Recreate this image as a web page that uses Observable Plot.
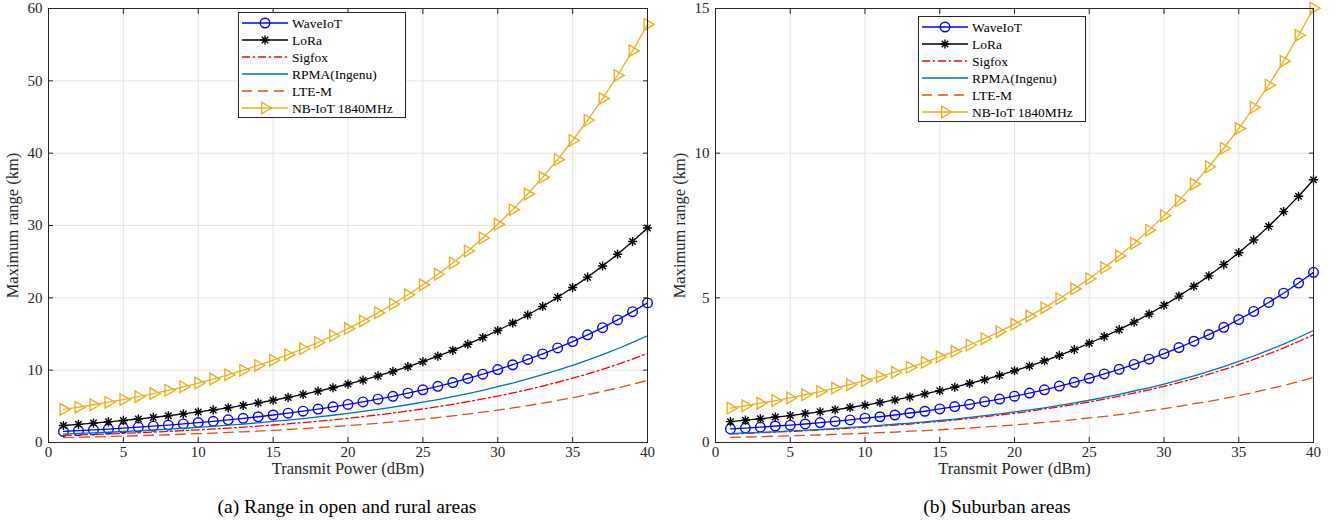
<!DOCTYPE html>
<html><head><meta charset="utf-8">
<script src="https://cdn.jsdelivr.net/npm/d3@7"></script>
<script src="https://cdn.jsdelivr.net/npm/@observablehq/plot@0.6"></script>
<style>
body{margin:0;background:#fff;font-family:"Liberation Serif","Times New Roman",serif;}
#wrap{position:relative;width:1338px;height:524px;overflow:hidden;}
.panel{position:absolute;top:0;width:669px;}
.panel svg text{font-family:"Liberation Serif","Times New Roman",serif !important;}
.caption{position:absolute;top:495px;font-size:19.5px;line-height:24px;color:#000;white-space:nowrap;transform:translateX(-50%);}
</style></head>
<body><div id="wrap"></div>
<script>
const power = [1,2,3,4,5,6,7,8,9,10,11,12,13,14,15,16,17,18,19,20,21,22,23,24,25,26,27,28,29,30,31,32,33,34,35,36,37,38,39,40];
const seriesNames = ["WaveIoT","LoRa","Sigfox","RPMA(Ingenu)","LTE-M","NB-IoT 1840MHz"];
const xTicks = [0,5,10,15,20,25,30,35,40];
const yTicksA = [0,10,20,30,40,50,60];
const yTicksB = [0,5,10,15];
const captions = ["(a) Range in open and rural areas","(b) Suburban areas"];

// (a) open and rural areas
const waveA = [1.53,1.63,1.74,1.86,1.98,2.12,2.26,2.41,2.57,2.75,2.93,3.13,3.34,3.56,3.80,4.06,4.33,4.62,4.93,5.26,5.61,5.99,6.39,6.82,7.28,7.77,8.29,8.85,9.44,10.08,10.75,11.48,12.25,13.07,13.95,14.88,15.88,16.95,18.09,19.30];
const loraA = [2.35,2.51,2.68,2.86,3.05,3.25,3.47,3.70,3.95,4.22,4.50,4.80,5.13,5.47,5.84,6.23,6.65,7.10,7.57,8.08,8.62,9.20,9.82,10.48,11.18,11.93,12.74,13.59,14.50,15.48,16.52,17.63,18.81,20.07,21.42,22.86,24.40,26.03,27.78,29.65];
const sigfoxA = [0.98,1.04,1.11,1.18,1.26,1.35,1.44,1.54,1.64,1.75,1.87,1.99,2.13,2.27,2.42,2.58,2.76,2.94,3.14,3.35,3.58,3.82,4.07,4.35,4.64,4.95,5.28,5.64,6.02,6.42,6.85,7.31,7.80,8.33,8.89,9.48,10.12,10.80,11.53,12.30];
const rpmaA = [1.17,1.25,1.33,1.42,1.52,1.62,1.73,1.84,1.97,2.10,2.24,2.39,2.55,2.72,2.91,3.10,3.31,3.53,3.77,4.02,4.29,4.58,4.89,5.22,5.57,5.94,6.34,6.77,7.22,7.71,8.22,8.78,9.37,9.99,10.67,11.38,12.15,12.96,13.83,14.76];
const ltemA = [0.68,0.73,0.77,0.83,0.88,0.94,1.00,1.07,1.14,1.22,1.30,1.39,1.48,1.58,1.69,1.80,1.92,2.05,2.19,2.34,2.50,2.66,2.84,3.03,3.24,3.45,3.69,3.93,4.20,4.48,4.78,5.10,5.44,5.81,6.20,6.62,7.06,7.53,8.04,8.58];
const nbiotA = [4.58,4.89,5.22,5.57,5.94,6.34,6.76,7.22,7.70,8.22,8.77,9.36,9.99,10.66,11.38,12.14,12.96,13.83,14.76,15.75,16.81,17.93,19.14,20.42,21.80,23.26,24.82,26.49,28.27,30.17,32.19,34.35,36.66,39.12,41.75,44.55,47.55,50.74,54.15,57.78];

// (b) suburban areas
const waveB = [0.47,0.50,0.53,0.57,0.60,0.64,0.69,0.73,0.78,0.84,0.89,0.95,1.02,1.08,1.16,1.24,1.32,1.41,1.50,1.60,1.71,1.82,1.95,2.08,2.22,2.37,2.53,2.70,2.88,3.07,3.28,3.50,3.73,3.98,4.25,4.53,4.84,5.16,5.51,5.88];
const loraB = [0.72,0.77,0.82,0.88,0.93,1.00,1.06,1.13,1.21,1.29,1.38,1.47,1.57,1.68,1.79,1.91,2.04,2.17,2.32,2.48,2.64,2.82,3.01,3.21,3.43,3.66,3.90,4.16,4.44,4.74,5.06,5.40,5.76,6.15,6.56,7.00,7.47,7.98,8.51,9.08];
const sigfoxB = [0.295,0.31,0.34,0.36,0.38,0.41,0.44,0.46,0.50,0.53,0.57,0.60,0.64,0.69,0.73,0.78,0.83,0.89,0.95,1.01,1.08,1.16,1.23,1.32,1.40,1.50,1.60,1.71,1.82,1.94,2.07,2.21,2.36,2.52,2.69,2.87,3.06,3.27,3.49,3.72];
const rpmaB = [0.31,0.33,0.35,0.37,0.40,0.42,0.45,0.48,0.52,0.55,0.59,0.63,0.67,0.71,0.76,0.81,0.87,0.93,0.99,1.06,1.13,1.20,1.28,1.37,1.46,1.56,1.66,1.78,1.89,2.02,2.16,2.30,2.46,2.62,2.80,2.99,3.19,3.40,3.63,3.87];
const ltemB = [0.18,0.19,0.20,0.22,0.23,0.25,0.26,0.28,0.30,0.32,0.34,0.36,0.39,0.41,0.44,0.47,0.50,0.54,0.57,0.61,0.65,0.70,0.74,0.79,0.85,0.90,0.96,1.03,1.10,1.17,1.25,1.34,1.42,1.52,1.62,1.73,1.85,1.97,2.10,2.25];
const nbiotB = [1.19,1.27,1.36,1.45,1.54,1.65,1.76,1.88,2.00,2.14,2.28,2.43,2.60,2.77,2.96,3.15,3.37,3.59,3.83,4.09,4.37,4.66,4.97,5.31,5.66,6.04,6.45,6.88,7.34,7.84,8.36,8.93,9.53,10.17,10.85,11.58,12.35,13.18,14.07,15.01];

const colors = ["#0000FF","#000000","#FF0000","#0072BD","#D95319","#EDB120"];
const dashes = [null,null,"8,3,2,3",null,"10,6",null];

const star8 = {draw(ctx, size){
  const r = Math.sqrt(size/Math.PI);
  for (let k=0;k<4;k++){ const a = k*Math.PI/4; const dx=r*Math.cos(a), dy=r*Math.sin(a);
    ctx.moveTo(-dx,-dy); ctx.lineTo(dx,dy);} }};

const markerSpec = [
  {symbol:"circle", r:4.8, rotate:0},
  {symbol:star8, r:4.6, rotate:0},
  null, null, null,
  {symbol:"triangle", r:4.3, rotate:90}
];

function table(seriesList){
  const rows=[];
  seriesList.forEach((vals,i)=>vals.forEach((v,j)=>rows.push({s:i, x:power[j], y:v})));
  return rows;
}

const FONT = "Liberation Serif, Times New Roman, serif";

function makePanel(seriesList, ymax, yTicks, ml, mr){
  const rows = table(seriesList);
  const marks = [
    Plot.gridX(xTicks, {stroke:"#e3e3e3", strokeOpacity:1}),
    Plot.gridY(yTicks, {stroke:"#e3e3e3", strokeOpacity:1}),
  ];
  seriesList.forEach((vals,i)=>{
    const d = rows.filter(r=>r.s===i);
    marks.push(Plot.line(d,{x:"x",y:"y",stroke:colors[i],strokeWidth:1.3,strokeDasharray:dashes[i]}));
    const m = markerSpec[i];
    if (m) marks.push(Plot.dot(d,{x:"x",y:"y",symbol:m.symbol,r:m.r,rotate:m.rotate,stroke:colors[i],fill:"none",strokeWidth:1.4}));
  });
  marks.push(
    Plot.frame({stroke:"#262626", strokeWidth:1}),
    Plot.axisX(xTicks,{anchor:"bottom", tickSize:-5, tickPadding:9, stroke:"#262626", fill:"#262626", label:"Transmit Power (dBm)", labelAnchor:"center", labelArrow:"none", labelOffset:31}),
    Plot.axisX(xTicks,{anchor:"top", tickSize:-5, stroke:"#262626", tickFormat:()=>"", label:null}),
    Plot.axisY(yTicks,{anchor:"left", tickSize:-5, tickPadding:11, stroke:"#262626", fill:"#262626", label:"Maximum range (km)", labelAnchor:"center", labelArrow:"none", labelOffset:42}),
    Plot.axisY(yTicks,{anchor:"right", tickSize:-5, stroke:"#262626", tickFormat:()=>"", label:null})
  );
  const svg = Plot.plot({
    width:669, height:478, marginLeft:ml, marginRight:mr, marginTop:8, marginBottom:36,
    style:{fontFamily:FONT, fontSize:"15px", color:"#262626", background:"white", overflow:"visible"},
    x:{domain:[0,40]}, y:{domain:[0,ymax]},
    marks
  });
  // text sizing: numeric tick labels vs. axis titles
  d3.select(svg).selectAll("text").each(function(){
    const t = this.textContent.trim();
    const isTick = /^[\d.]*$/.test(t);
    d3.select(this).style("font-size", isTick ? "15px" : "16.5px", "important")
      .style("font-family", FONT, "important");
  });
  return svg;
}

function legend(container, left, top){
  const W=168, H=106;
  const svg = d3.select(container).append("svg").attr("width",W).attr("height",H)
    .style("position","absolute").style("left",left+"px").style("top",top+"px");
  svg.append("rect").attr("x",0.5).attr("y",0.5).attr("width",W-1).attr("height",H-1).attr("fill","white").attr("stroke","#262626");
  seriesNames.forEach((name,i)=>{
    const y = 11 + i*17;
    svg.append("line").attr("x1",4).attr("x2",50).attr("y1",y).attr("y2",y)
      .attr("stroke",colors[i]).attr("stroke-width",1.3).attr("stroke-dasharray",dashes[i]);
    const m = markerSpec[i];
    if (m){
      const sym = typeof m.symbol === "string" ? (m.symbol==="circle"?d3.symbolCircle:d3.symbolTriangle) : m.symbol;
      svg.append("path").attr("d",d3.symbol(sym, Math.PI*m.r*m.r)())
        .attr("transform",`translate(27,${y}) rotate(${m.rotate})`)
        .attr("fill","none").attr("stroke",colors[i]).attr("stroke-width",1.4);
    }
    svg.append("text").attr("x",54).attr("y",y+4.5).attr("font-size",13.5)
      .attr("font-family",FONT).attr("fill","#000").text(name);
  });
}

const wrap = document.getElementById("wrap");
const pA = document.createElement("div"); pA.className="panel"; pA.style.left="0px";
pA.appendChild(makePanel([waveA,loraA,sigfoxA,rpmaA,ltemA,nbiotA],60,yTicksA,48,22));
wrap.appendChild(pA);
const pB = document.createElement("div"); pB.className="panel"; pB.style.left="669px";
pB.appendChild(makePanel([waveB,loraB,sigfoxB,rpmaB,ltemB,nbiotB],15,yTicksB,46,25));
wrap.appendChild(pB);
legend(wrap,238,12);
legend(wrap,918,16);
[[captions[0],347],[captions[1],997]].forEach(([t,cx])=>{
  const c=document.createElement("div"); c.className="caption"; c.style.left=cx+"px"; c.textContent=t; wrap.appendChild(c);
});
</script></body></html>
